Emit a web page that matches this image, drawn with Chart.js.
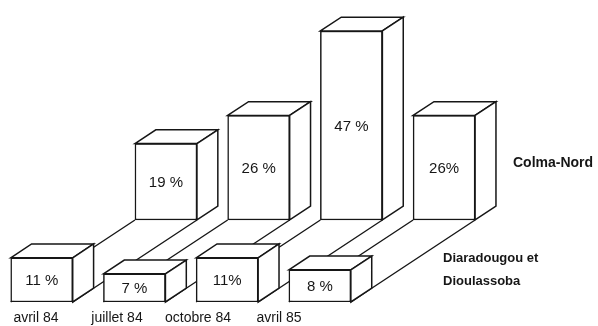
<!DOCTYPE html>
<html>
<head>
<meta charset="utf-8">
<script src="https://cdn.jsdelivr.net/npm/chart.js@4/dist/chart.umd.min.js"></script>
<style>
  html, body { margin: 0; padding: 0; background: #fff; }
  canvas { display: block; }
</style>
</head>
<body>
<canvas id="chart" width="598" height="326"></canvas>
<script>
// Survey rounds and shares (%) for the two neighbourhoods
const categories = ['avril 84', 'juillet 84', 'octobre 84', 'avril 85'];
const diaradougouValues = [11, 7, 11, 8];
const colmaNordValues = [19, 26, 47, 26];
const diaradougouLabels = ['11 %', '7 %', '11%', '8 %'];
const colmaNordLabels = ['19 %', '26 %', '47 %', '26%'];
const seriesNames = [['Diaradougou et', 'Dioulassoba'], ['Colma-Nord']];

// Drawing constants
const INK = '#161616';
const FONT = '"Liberation Sans", Arial, sans-serif';
const Y_MAX = 75.1;          // % shown over the full plot height
const BACK_LIFT = 20.4;      // back row floor raised by this many % units
const X_START = -0.45;       // slot value at the left canvas edge
const X_SPAN = 6.45;         // slots across the canvas
const DEPTH_SHIFT = 1.34;    // back row shifted right by this many slots
const LABEL_START = -0.444;  // axis for the date labels
const LABEL_SPAN = 7.38;
const BOX_DEPTH = 0.168;     // box depth as a share of the front-to-back floor run

function poly(ctx, pts) {
  ctx.beginPath();
  ctx.moveTo(pts[0][0], pts[0][1]);
  for (let k = 1; k < pts.length; k++) ctx.lineTo(pts[k][0], pts[k][1]);
  ctx.closePath();
  ctx.fill();
  ctx.stroke();
}

function barBox(bar) {
  const p = bar.getProps(['x', 'y', 'base', 'width'], true);
  return { l: p.x - p.width / 2, r: p.x + p.width / 2, t: p.y, b: p.base, cx: p.x };
}

const boxes3d = {
  id: 'boxes3d',
  afterDatasetDraw(chart, args) {
    const ctx = chart.ctx;
    const frontMeta = chart.getDatasetMeta(0);
    const backMeta = chart.getDatasetMeta(1);
    const depth = (i) => {
      const f = barBox(frontMeta.data[i]);
      const k = barBox(backMeta.data[i]);
      return { dx: (k.l - f.l) * BOX_DEPTH, dy: (k.b - f.b) * BOX_DEPTH };
    };
    const texts = args.index === 0 ? diaradougouLabels : colmaNordLabels;

    ctx.save();
    ctx.lineWidth = 1.5;
    ctx.strokeStyle = INK;
    ctx.lineJoin = 'miter';

    args.meta.data.forEach((bar, i) => {
      const { l, r, t, b } = barBox(bar);
      const { dx, dy } = depth(i);
      ctx.fillStyle = '#fff';
      poly(ctx, [[l, t], [l + dx, t + dy], [r + dx, t + dy], [r, t]]);
      poly(ctx, [[r, t], [r + dx, t + dy], [r + dx, b + dy], [r, b]]);
    });

    // floor lanes joining each front box to the box behind it
    if (args.index === 1) {
      ctx.lineWidth = 1.4;
      frontMeta.data.forEach((fb, i) => {
        const f = barBox(fb);
        const k = barBox(backMeta.data[i]);
        ctx.beginPath();
        ctx.moveTo(f.l, f.b); ctx.lineTo(k.l, k.b);
        ctx.moveTo(f.r, f.b); ctx.lineTo(k.r, k.b);
        ctx.stroke();
      });
    }

    // value labels on the front faces
    ctx.fillStyle = INK;
    ctx.font = '15px ' + FONT;
    ctx.textAlign = 'center';
    ctx.textBaseline = 'middle';
    args.meta.data.forEach((bar, i) => {
      const { t, b, cx } = barBox(bar);
      ctx.fillText(texts[i], cx, (t + b) / 2 + 1);
    });
    ctx.restore();
  },
  afterDraw(chart) {
    const ctx = chart.ctx;
    ctx.save();
    ctx.fillStyle = INK;
    ctx.textAlign = 'left';
    ctx.textBaseline = 'middle';
    ctx.font = 'bold 14px ' + FONT;
    ctx.fillText(seriesNames[1][0], 513, 163);
    ctx.font = 'bold 13px ' + FONT;
    ctx.fillText(seriesNames[0][0], 443, 258);
    ctx.fillText(seriesNames[0][1], 443, 281);
    ctx.restore();
  }
};

const frontData = categories.map((c, i) => ({ x: i, y: diaradougouValues[i] }));
const backData = categories.map((c, i) => ({ x: i, y: colmaNordValues[i] }));

const barStyle = {
  backgroundColor: '#ffffff',
  borderColor: INK,
  borderWidth: 1.5,
  borderSkipped: false,
  barThickness: 62,
  grouped: false
};

new Chart(document.getElementById('chart'), {
  type: 'bar',
  data: {
    datasets: [
      Object.assign({ label: seriesNames[0].join(' '), data: frontData, xAxisID: 'x', yAxisID: 'y' }, barStyle),
      Object.assign({ label: seriesNames[1][0], data: backData, xAxisID: 'xb', yAxisID: 'yb' }, barStyle)
    ]
  },
  options: {
    responsive: false,
    animation: false,
    devicePixelRatio: 1,
    layout: { padding: 0 },
    plugins: { legend: { display: false }, tooltip: { enabled: false } },
    scales: {
      x: { type: 'linear', display: false, offset: false, min: X_START, max: X_START + X_SPAN },
      xb: { type: 'linear', display: false, offset: false, min: X_START - DEPTH_SHIFT, max: X_START - DEPTH_SHIFT + X_SPAN },
      xl: {
        type: 'linear', position: 'bottom', offset: false,
        min: LABEL_START, max: LABEL_START + LABEL_SPAN,
        grid: { display: false, drawTicks: false },
        border: { display: false },
        afterBuildTicks: (scale) => { scale.ticks = categories.map((c, i) => ({ value: i })); },
        afterFit: (scale) => { scale.height = 24; },
        ticks: {
          autoSkip: false, maxRotation: 0, padding: 8,
          color: INK, font: { family: FONT, size: 14 },
          callback: (v) => categories[v]
        }
      },
      y: { type: 'linear', display: false, min: 0, max: Y_MAX },
      yb: { type: 'linear', display: false, min: -BACK_LIFT, max: Y_MAX - BACK_LIFT }
    }
  },
  plugins: [boxes3d]
});
</script>
</body>
</html>
